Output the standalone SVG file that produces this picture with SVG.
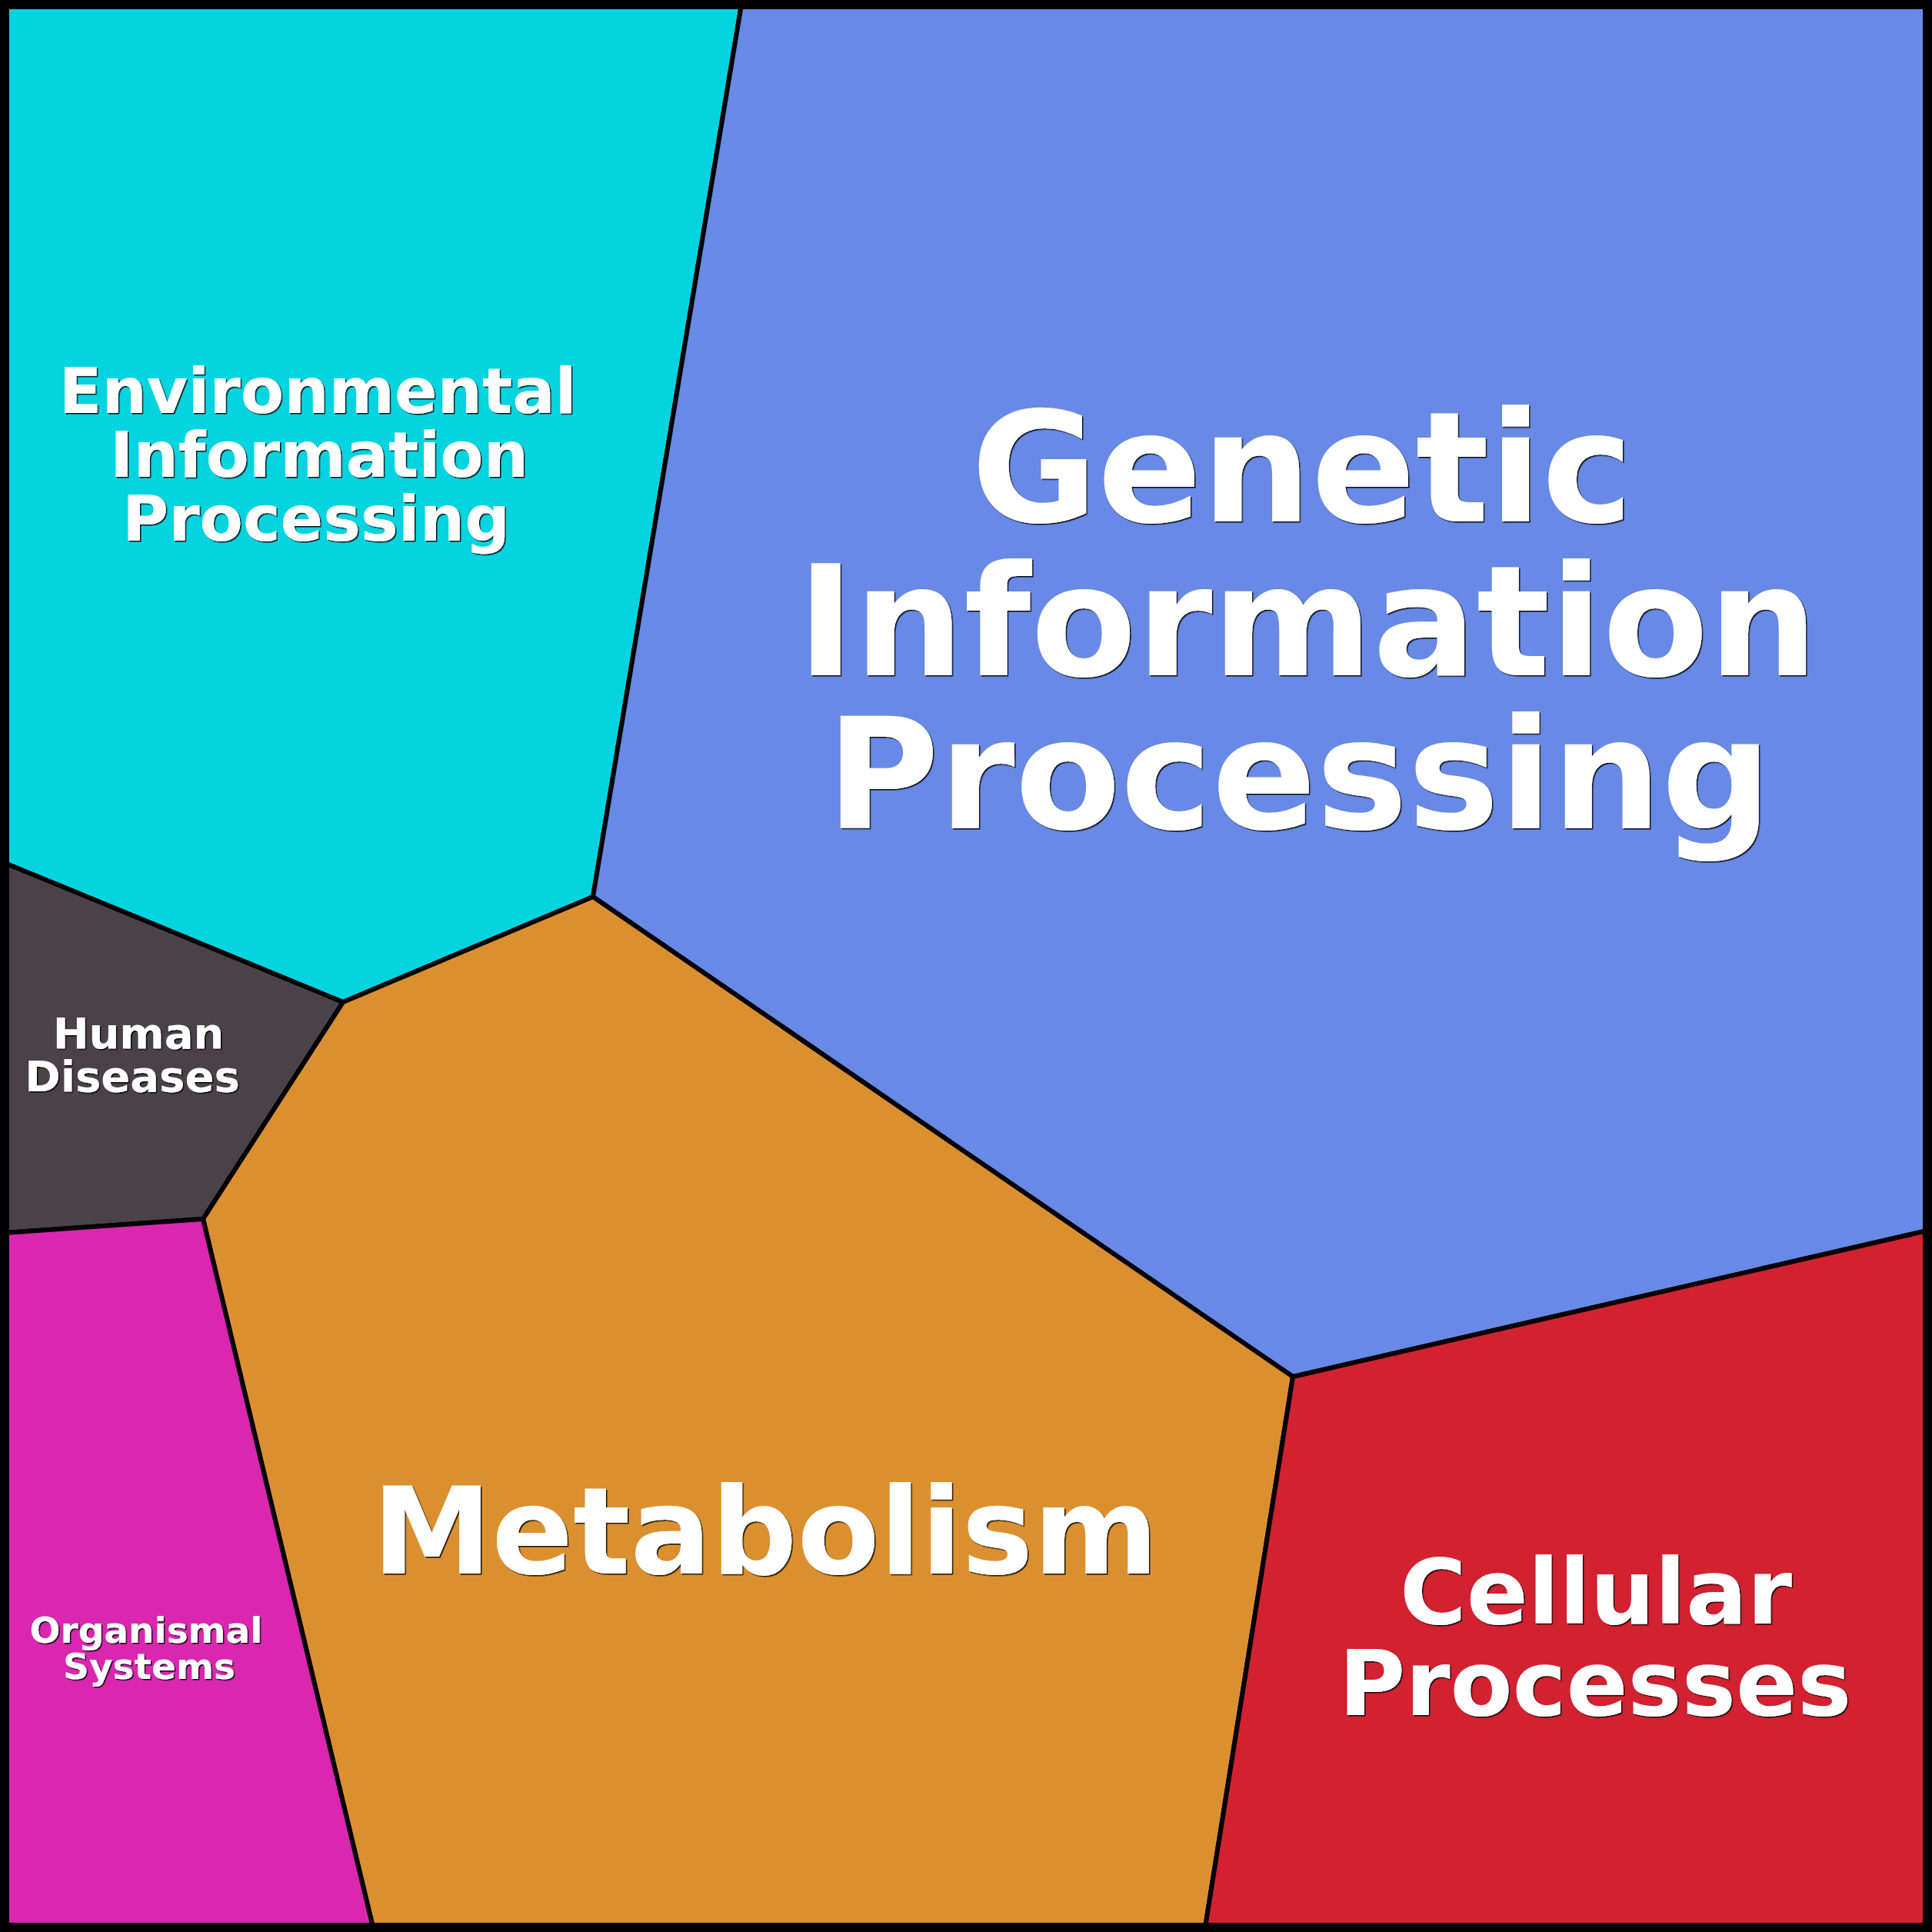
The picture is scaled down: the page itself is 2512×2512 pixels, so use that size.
<svg xmlns="http://www.w3.org/2000/svg" width="2512" height="2512" viewBox="0 0 2512 2512">
<defs>
<style>
.cell{stroke:#000;stroke-width:6;stroke-linejoin:round}
.lbl{font-family:"DejaVu Sans",Verdana,sans-serif;font-weight:bold;fill:#fff;text-anchor:middle;filter:url(#sh)}
</style>
<filter id="sh" x="-5%" y="-5%" width="110%" height="110%">
<feDropShadow dx="1.5" dy="1.5" stdDeviation="0.6" flood-color="#000" flood-opacity="0.9"/>
</filter>
</defs>
<g id="env">
<polygon class="cell" fill="#05D4E0" points="6,6 964,6 771,1166 446,1303 6,1122"/>
<text class="lbl" font-size="82"><tspan x="413" y="537">Environmental</tspan><tspan x="415" y="620">Information</tspan><tspan x="411" y="703">Processing</tspan></text>
</g>
<g id="genetic">
<polygon class="cell" fill="#6889E5" points="964,6 2506,6 2506,1600 1681,1790 771,1166"/>
<text class="lbl" font-size="200"><tspan x="1693" y="678">Genetic</tspan><tspan x="1700" y="878">Information</tspan><tspan x="1689" y="1077">Processing</tspan></text>
</g>
<g id="human">
<polygon class="cell" fill="#4B4249" points="6,1122 446,1303 264,1585 6,1603"/>
<text class="lbl" font-size="56"><tspan x="180" y="1363">Human</tspan><tspan x="172" y="1419">Diseases</tspan></text>
</g>
<g id="metabolism">
<polygon class="cell" fill="#DB902F" points="446,1303 771,1166 1681,1790 1567,2506 485,2506 264,1585"/>
<text class="lbl" font-size="156"><tspan x="995" y="2046">Metabolism</tspan></text>
</g>
<g id="organismal">
<polygon class="cell" fill="#D927B0" points="6,1603 264,1585 485,2506 6,2506"/>
<text class="lbl" font-size="47"><tspan x="190" y="2136">Organismal</tspan><tspan x="194" y="2183">Systems</tspan></text>
</g>
<g id="cellular">
<polygon class="cell" fill="#D22131" points="1681,1790 2506,1600 2506,2506 1567,2506"/>
<text class="lbl" font-size="118"><tspan x="2075" y="2111">Cellular</tspan><tspan x="2074" y="2230">Processes</tspan></text>
</g>
<g id="connectors">
<rect x="6" y="6" width="2500" height="2500" fill="none" stroke="#000" stroke-width="12"/>
</g>
</svg>
